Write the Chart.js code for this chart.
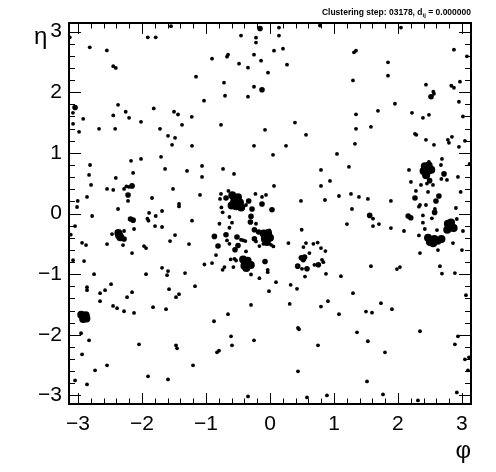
<!DOCTYPE html>
<html>
<head>
<meta charset="utf-8">
<script src="https://cdn.jsdelivr.net/npm/chart.js@4.4.1/dist/chart.umd.min.js"></script>
<style>
  html, body { margin: 0; padding: 0; background: #fff; }
  #c { display: block; }
</style>
</head>
<body>
<canvas id="c" width="496" height="472"></canvas>
<script>
/* ================= DATA ================= */
// [phi, eta] of single hits (small markers)
const singleHits = [
  [-3.13, 2.906], [-2.817, 2.74], [-2.55, 2.69], [-2.45, 2.43], [-2.41, 2.40],
  [-1.91, 2.905], [-1.786, 2.905], [-1.547, 3.09], [-1.156, 2.256], [-3.08, 1.66],
  [-2.375, 1.793], [-2.255, 1.678], [-1.817, 1.732], [-1.5, 1.678], [-1.4375, 1.633],
  [0.14, 3.066], [0.78, 3.10], [-0.453, 2.934], [-0.219, 2.90], [0.14, 2.934],
  [-0.219, 2.818], [0.203, 2.719], [0.0625, 2.686], [-0.656, 2.62], [-0.672, 2.587],
  [-0.906, 2.554], [-0.25, 2.62], [-0.14, 2.52], [-0.484, 2.471], [-0.344, 2.405],
  [0.266, 2.455], [-0.031, 2.322], [-0.719, 2.157], [-0.25, 2.09], [-0.703, 1.942],
  [-0.344, 1.926], [-1.031, 1.86],
  [2.047, 3.066], [1.3125, 2.658], [1.344, 2.686], [1.844, 2.493], [2.875, 2.702],
  [3.078, 2.592], [1.297, 2.195], [1.844, 2.273], [2.4375, 2.124], [2.553, 2.008],
  [2.5625, 1.975], [2.834, 2.107], [2.875, 2.074], [2.969, 2.174], [2.953, 1.843],
  [1.953, 1.81], [1.6875, 1.694], [2.219, 1.661], [2.39, 1.578], [3.016, 1.6],
  [1.344, 1.636], [2.484, 1.628],
  [-2.45, 1.617], [-2.203, 1.578], [-3.078, 1.479], [-2.92, 1.562], [-2.984, 1.347],
  [-2.016, 1.512], [-1.223, 1.595], [-1.375, 1.463], [-2.672, 1.397], [-2.42, 1.397],
  [-1.719, 1.397], [-1.594, 1.281], [-1.484, 1.248], [-1.531, 1.132], [-1.219, 1.116],
  [-2.172, 0.868], [-2.016, 0.90], [-1.703, 0.934], [-2.8125, 0.80], [-1.64, 0.735],
  [-1.297, 0.702], [-1.0625, 0.785], [-2.14, 0.669], [-2.828, 0.636], [-2.41, 0.587],
  [-1.0625, 0.603], [-2.797, 0.471], [-2.547, 0.405], [-2.45, 0.388], [-2.281, 0.405],
  [-2.244, 0.448], [-2.203, 0.438], [-1.516, 0.405], [-2.86, 0.273], [-3.005, 0.207],
  [-3.016, 0.107], [-2.219, 0.207], [-1.844, 0.256], [-1.094, 0.306], [-1.422, 0.157],
  [-1.422, 0.117], [-2.375, 0.074], [-1.89, 0.01], [-1.6875, 0.041],
  [-0.766, 1.463], [-0.078, 1.38], [0.39, 1.50], [0.5625, 1.298], [-0.25, 1.116],
  [0.25, 1.116], [0.047, 0.967], [1.047, 0.983], [-0.734, 0.735], [-0.5625, 0.653],
  [0.797, 0.719], [0.9375, 0.537], [0.797, 0.455], [0.0625, 0.455], [0.484, 0.207],
  [0.859, 0.223], [1.078, 0.289], [-0.766, 0.322], [-0.781, 0.24], [-0.65, 0.372],
  [-0.228, 0.322], [-0.125, 0.273], [-0.0625, 0.306], [-0.375, 0.14], [-0.76, 0.10],
  [-0.74, 0.02],
  [-0.634, -0.058], [-0.79, -0.169], [-0.594, -0.152], [-0.634, -0.235], [-0.219, -0.169],
  [-0.01, -0.279], [-0.453, -0.433], [-0.416, -0.444], [-0.384, -0.455], [-0.219, -0.461],
  [-0.672, -0.444], [-0.634, -0.5], [-0.166, -0.537], [-0.103, -0.5], [0.016, -0.516],
  [0.053, -0.543], [-0.375, -0.626], [-0.844, -0.686], [-0.614, -0.758], [-0.556, -0.747],
  [-0.53, -0.775], [-1.025, -0.841], [-0.906, -0.818], [-0.7125, -0.884], [-0.74, -0.929],
  [-0.572, -0.884], [-0.297, -1.006], [-0.036, -0.929], [-0.036, -0.967], [-0.166, -1.066],
  [0.094, -1.132], [-0.016, -1.281], [-0.297, -1.507], [0.2875, -0.488], [0.495, -0.268],
  [0.5625, -0.488], [0.678, -0.5], [0.745, -0.479], [0.797, -0.571], [0.866, -0.62],
  [0.522, -0.554], [0.616, -0.653], [0.5, -0.912], [0.8125, -0.764], [0.834, -0.802],
  [0.694, -0.846], [0.547, -1.04], [0.875, -0.995], [0.323, -1.177], [0.422, -1.243],
  [0.308, -1.491], [0.797, -1.535], [0.906, -1.446],
  [-2.78, -0.041], [-1.916, -0.086], [-1.9, -0.119], [-1.786, -0.041], [-3.047, -0.207],
  [-3.114, -0.35], [-2.125, -0.256], [-2.281, -0.289], [-1.797, -0.207], [-1.6875, -0.223],
  [-1.219, -0.119], [-2.469, -0.339], [-2.9375, -0.483], [-2.875, -0.521], [-2.547, -0.504],
  [-2.297, -0.521], [-1.969, -0.537], [-1.9375, -0.57], [-1.5625, -0.455], [-1.484, -0.355],
  [-1.266, -0.504], [-2.156, -0.653], [-3.078, -0.769], [-2.906, -0.785], [-1.6875, -0.896],
  [-1.594, -0.95], [-1.609, -1.017], [-2.75, -1.0], [-1.9375, -1.0], [-1.328, -0.983],
  [-2.484, -1.165], [-2.86, -1.215], [-2.86, -1.265], [-2.578, -1.265], [-2.656, -1.314],
  [-2.156, -1.298], [-2.234, -1.38], [-1.578, -1.248], [-1.422, -1.331], [-1.469, -1.38],
  [-1.172, -1.198], [-2.656, -1.446], [-2.453, -1.524], [-2.39, -1.562], [-2.281, -1.612],
  [-1.828, -1.545], [-1.625, -1.578], [-2.125, -1.64],
  [1.61, -0.086], [2.39, -0.031], [2.53, -0.08], [2.39, -0.152], [1.203, -0.174],
  [1.61, -0.207], [1.703, -0.174], [1.89, -0.24], [2.094, -0.289], [2.42, -0.256],
  [2.61, -0.273], [2.92, -0.091], [3.016, -0.289], [2.328, -0.362], [2.86, -0.488],
  [2.625, -0.603], [3.0, -0.603], [2.344, -0.653], [1.578, -0.868], [1.984, -0.917],
  [2.031, -0.884], [2.656, -0.868], [2.6875, -0.99], [2.89, -0.983], [1.109, -1.033],
  [1.297, -1.314], [3.0625, -1.347], [1.734, -1.479], [1.906, -1.578], [1.5, -1.618],
  [1.594, -1.635],
  [1.344, 1.397], [1.578, 1.43], [1.328, 1.149], [2.266, 1.314], [2.287, 1.298],
  [2.4375, 1.215], [2.5625, 1.132], [2.78, 1.215], [2.797, 1.165], [2.844, 1.264],
  [2.953, 1.099], [3.047, 1.198], [1.234, 0.769], [2.484, 0.851], [2.6875, 0.90],
  [2.672, 0.80], [2.453, 0.493], [2.678, 0.57], [2.766, 0.554], [2.9375, 0.603],
  [3.12, 0.818], [2.172, 0.719], [2.203, 0.521], [2.36, 0.471], [2.547, 0.471],
  [2.281, 0.372], [2.47, 0.355], [2.98, 0.355], [2.344, 0.14], [2.328, 0.112],
  [2.4375, 0.14], [2.906, 0.091], [1.266, 0.322], [1.39, 0.273], [1.53, 0.24],
  [1.89, 0.207], [1.281, 0.074], [2.578, 0.074],
  [-2.953, -1.975], [-2.828, -2.091], [-2.9375, -2.322], [-3.047, -2.752], [-2.86, -2.818],
  [-2.734, -2.587], [-2.547, -2.504], [-2.047, -2.157], [-1.906, -2.686], [-1.594, -2.736],
  [-1.469, -2.174], [-1.453, -2.223], [-1.203, -2.504],
  [-0.656, -1.661], [-0.875, -1.777], [-0.609, -2.025], [-0.594, -2.174], [-0.828, -2.289],
  [-0.797, -2.263], [-0.25, -2.091], [0.4375, -1.888], [0.453, -1.909], [0.75, -2.174],
  [0.4375, -2.603], [-0.344, -3.017], [0.578, -3.033], [0.89, -3.0], [1.078, -1.661],
  [1.36, -1.959], [1.53, -2.107], [1.797, -2.289], [2.344, -1.942], [2.9375, -2.025],
  [2.89, -2.157], [3.047, -2.405], [3.11, -2.372], [3.094, -2.587], [1.516, -2.769],
  [1.766, -2.983], [2.3125, -3.083], [2.92, -2.95]
];

// [phi, eta] of merged hits (medium markers)
const mergedHits = [
  [-3.047, 1.749], [-0.156, 3.05], [-0.125, 2.041], [2.516, 1.926],
  [-2.156, 0.455], [-2.219, 0.306],
  [-0.6875, 0.256], [-0.333, 0.207], [-0.125, 0.157], [-0.281, 0.074], [0.031, 0.063],
  [-0.297, -0.048], [-0.306, -0.14], [-0.244, -0.268], [-0.177, -0.306], [-0.6875, -0.35],
  [-0.869, -0.378], [-0.516, -0.388], [-0.244, -0.417], [-0.8125, -0.537], [-0.5, -0.527],
  [-0.547, -0.598], [-0.078, -0.792], [0.433, -0.868], [0.578, -0.912], [0.756, -0.846],
  [0.49, -0.73], [0.54, -0.72], [0.52, -0.76],
  [-2.18, -0.09], [-2.14, -0.11], [-2.281, -0.421],
  [1.558, -0.031], [2.16, -0.04], [2.2, -0.07],
  [2.495, 0.542], [2.72, 0.653], [2.266, 0.256], [2.64, 0.289], [2.594, 0.207], [2.573, 0.018]
];

// [phi, eta] of clusters (large markers)
const clusterHits = [
  [-0.59, 0.30], [-0.5, 0.27], [-0.56, 0.2], [-0.47, 0.18], [-0.53, 0.12], [-0.45, 0.1], [-0.6, 0.13],
  [-0.1, -0.33], [-0.03, -0.32], [-0.08, -0.42], [0.0, -0.4], [-0.05, -0.47],
  [-0.42, -0.76], [-0.35, -0.78], [-0.4, -0.86], [-0.3, -0.85], [-0.37, -0.9],
  [-2.37, -0.32], [-2.34, -0.39], [-2.36, -0.36],
  [2.78, -0.17], [2.83, -0.15], [2.85, -0.23], [2.77, -0.27], [2.87, -0.24],
  [2.47, -0.4], [2.5, -0.47], [2.57, -0.42], [2.62, -0.45], [2.68, -0.42], [2.55, -0.49],
  [2.42, 0.78], [2.48, 0.79], [2.4, 0.7], [2.47, 0.7], [2.52, 0.72], [2.44, 0.63],
  [-2.95, -1.67], [-2.88, -1.68], [-2.92, -1.74], [-2.87, -1.73]
];

const xTitle = "\u03c6";
const yTitle = "\u03b7";
const stepText = "Clustering step: 03178, d";
const distSub = "ij";
const distText = " = 0.000000";

/* ================= HELPERS ================= */
const FONT = "'Liberation Sans', Arial, sans-serif";
const toPoints = arr => arr.map(p => ({ x: p[0], y: p[1] }));
const minus = v => String(v).replace("-", "\u2212");

/* ================= FRAME + TICKS + TEXT ================= */
const rootFrame = {
    id: "rootFrame",
    afterDatasetsDraw(chart) {
        const ctx = chart.ctx;
        const a = chart.chartArea;
        const xs = chart.scales.x;
        const ys = chart.scales.y;

        ctx.save();
        ctx.strokeStyle = "#000";
        ctx.lineWidth = 1;

        // inward ticks on all four sides, major every 1, minor every 0.2
        ctx.beginPath();
        for (let i = -15; i <= 15; i++) {
            const v = i / 5;
            const major = i % 5 === 0;
            const px = Math.round(xs.getPixelForValue(v)) + 0.5;
            const lx = major ? 11 : 5.5;
            ctx.moveTo(px, a.bottom); ctx.lineTo(px, a.bottom - lx);
            ctx.moveTo(px, a.top); ctx.lineTo(px, a.top + lx);

            const py = Math.round(ys.getPixelForValue(v)) + 0.5;
            const ly = major ? 12 : 6;
            ctx.moveTo(a.left, py); ctx.lineTo(a.left + ly, py);
            ctx.moveTo(a.right, py); ctx.lineTo(a.right - ly, py);
        }
        ctx.stroke();

        ctx.lineWidth = 2;
        ctx.strokeRect(a.left, a.top, a.right - a.left, a.bottom - a.top);

        // axis titles
        ctx.fillStyle = "#000";
        ctx.font = "24px " + FONT;
        ctx.textBaseline = "alphabetic";
        ctx.textAlign = "right";
        ctx.fillText(xTitle, a.right, 458);
        ctx.textAlign = "left";
        ctx.fillText(yTitle, 34, 44);

        // step title, top right
        ctx.font = "bold 8.5px " + FONT;
        const w3 = ctx.measureText(distText).width;
        ctx.font = "bold 6px " + FONT;
        const w2 = ctx.measureText(distSub).width;
        const x = a.right - w3;
        ctx.textAlign = "left";
        ctx.fillText(distSub, x - w2, 17);
        ctx.font = "bold 8.5px " + FONT;
        ctx.fillText(distText, x, 15);
        ctx.textAlign = "right";
        ctx.fillText(stepText, x - w2, 15);
        ctx.restore();
    }
};

/* ================= CHART ================= */
const dot = (data, r) => ({
    data: toPoints(data),
    pointRadius: r,
    pointHoverRadius: r,
    pointBorderWidth: 0,
    backgroundColor: "#000",
    borderColor: "#000"
});

new Chart(document.getElementById("c"), {
    type: "scatter",
    data: {
        datasets: [
            dot(singleHits, 1.9),
            dot(mergedHits, 2.8),
            dot(clusterHits, 4)
        ]
    },
    options: {
        responsive: false,
        animation: false,
        devicePixelRatio: 1,
        layout: { padding: { top: 23, right: 25, left: 0, bottom: 0 } },
        plugins: { legend: { display: false }, tooltip: { enabled: false } },
        scales: {
            x: {
                type: "linear",
                min: -Math.PI,
                max: Math.PI,
                grid: { display: false, drawTicks: false },
                border: { display: false },
                ticks: {
                    stepSize: 1,
                    includeBounds: false,
                    maxRotation: 0,
                    padding: 8,
                    color: "#000",
                    font: { family: FONT, size: 21 },
                    callback: v => minus(v)
                },
                afterFit: s => { s.height = 68; }
            },
            y: {
                type: "linear",
                min: -Math.PI,
                max: Math.PI,
                grid: { display: false, drawTicks: false },
                border: { display: false },
                ticks: {
                    stepSize: 1,
                    includeBounds: false,
                    padding: 7,
                    color: "#000",
                    font: { family: FONT, size: 21 },
                    callback: v => minus(v)
                },
                afterFit: s => { s.width = 69; }
            }
        }
    },
    plugins: [rootFrame]
});
</script>
</body>
</html>
